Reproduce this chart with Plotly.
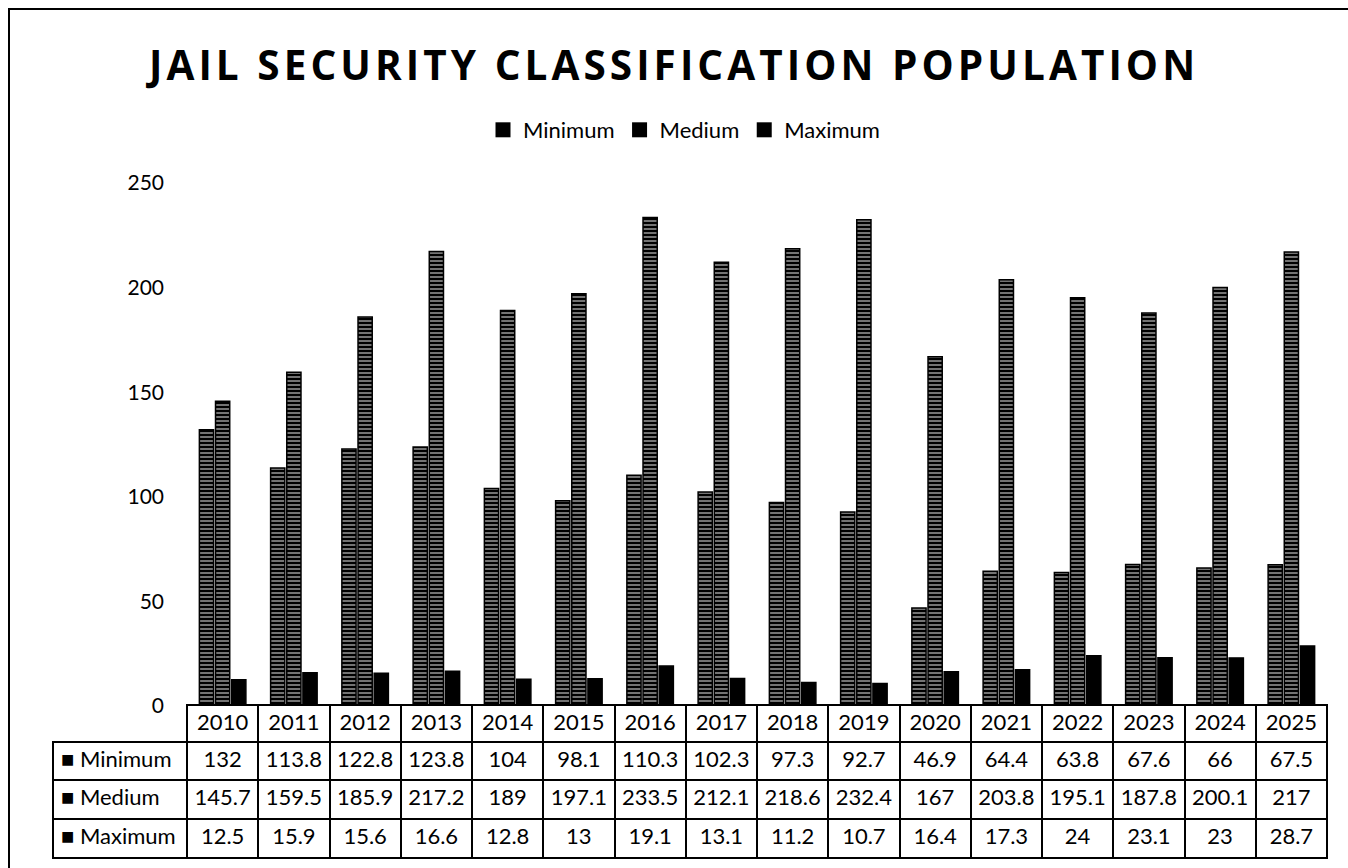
import plotly.graph_objects as go

W, H = 1348, 868

years = [str(y) for y in range(2010, 2026)]
series_names = ["Minimum", "Medium", "Maximum"]
minimum = [132, 113.8, 122.8, 123.8, 104, 98.1, 110.3, 102.3, 97.3, 92.7, 46.9, 64.4, 63.8, 67.6, 66, 67.5]
medium = [145.7, 159.5, 185.9, 217.2, 189, 197.1, 233.5, 212.1, 218.6, 232.4, 167, 203.8, 195.1, 187.8, 200.1, 217]
maximum = [12.5, 15.9, 15.6, 16.6, 12.8, 13, 19.1, 13.1, 11.2, 10.7, 16.4, 17.3, 24, 23.1, 23, 28.7]
y_ticks = [0, 50, 100, 150, 200, 250]
title_text = "JAIL SECURITY CLASSIFICATION POPULATION"

FONT = "Lato"

def px(x):
    return x / W

def py(y):
    return 1 - y / H

fig = go.Figure()

striped = dict(color="black", line=dict(color="black", width=1.5),
               pattern=dict(shape="-", fgcolor="white", fillmode="overlay", size=4, solidity=0.45))
solid = dict(color="black", line=dict(color="black", width=1.5))

for name, vals, mk in [("Minimum", minimum, striped), ("Medium", medium, striped), ("Maximum", maximum, solid)]:
    fig.add_trace(go.Bar(x=years, y=vals, name=name, marker=mk, showlegend=False,
                         hoverinfo="x+y+name"))

# legend entries (solid black squares)
for name in series_names:
    fig.add_trace(go.Scatter(x=[None], y=[None], mode="markers", name=name,
                             marker=dict(symbol="square", size=15, color="black")))

# data table: header row of years
x_left_years = 187
x_right = 1327
x_left_labels = 53
fig.add_trace(go.Table(
    domain=dict(x=[px(x_left_years), px(x_right)], y=[0, py(705)]),
    columnwidth=[1] * len(years),
    header=dict(values=years, height=37, align="center",
                fill=dict(color="white"), line=dict(color="black", width=2),
                font=dict(family=FONT, size=22, color="black")),
    cells=dict(values=[[] for _ in years]),
))

label_col = ["\u25A0\u00A0" + n for n in series_names]
cols = [label_col] + [[minimum[i], medium[i], maximum[i]] for i in range(len(years))]
lab_w = x_left_years - x_left_labels
yr_w = (x_right - x_left_years) / len(years)
fig.add_trace(go.Table(
    domain=dict(x=[px(x_left_labels), px(x_right)], y=[0, py(742)]),
    columnwidth=[lab_w] + [yr_w] * len(years),
    header=dict(values=[c[0] for c in cols], height=38,
                align=["left"] + ["center"] * len(years),
                fill=dict(color="white"), line=dict(color="black", width=2),
                font=dict(family=FONT, size=22, color="black")),
    cells=dict(values=[c[1:] for c in cols], height=39,
               align=["left"] + ["center"] * len(years),
               fill=dict(color="white"), line=dict(color="black", width=2),
               font=dict(family=FONT, size=22, color="black")),
))

spaced_title = "\u200a".join(title_text)

fig.update_layout(
    width=W, height=H,
    margin=dict(l=0, r=0, t=0, b=0, autoexpand=False),
    paper_bgcolor="white", plot_bgcolor="white",
    title=dict(text="<b>" + spaced_title + "</b>",
               x=px(672), xanchor="center", y=py(66), yanchor="middle",
               font=dict(family="Open Sans", size=40.5, color="black")),
    legend=dict(orientation="h", x=px(684), xanchor="center", y=py(130), yanchor="middle",
                font=dict(family=FONT, size=22, color="black"), itemwidth=30,
                traceorder="normal"),
    barmode="group", bargap=0.32, bargroupgap=0.12,
    xaxis=dict(domain=[px(x_left_years), px(x_right)], type="category",
               showticklabels=False, showgrid=False, zeroline=False, showline=False),
    yaxis=dict(domain=[py(706), py(183)], range=[0, 250], tickvals=y_ticks,
               showgrid=False, zeroline=False, showline=False,
               tickfont=dict(family=FONT, size=21, color="black"),
               ticks="", ticklabelstandoff=22),
    shapes=[dict(type="rect", xref="paper", yref="paper",
                 x0=px(9), y0=py(H + 5), x1=px(W + 5), y1=py(9),
                 line=dict(color="black", width=2), fillcolor="rgba(0,0,0,0)", layer="below")],
)

fig.write_html("out.html", config={"displayModeBar": False},
               post_script="document.body.style.margin='0px';")
